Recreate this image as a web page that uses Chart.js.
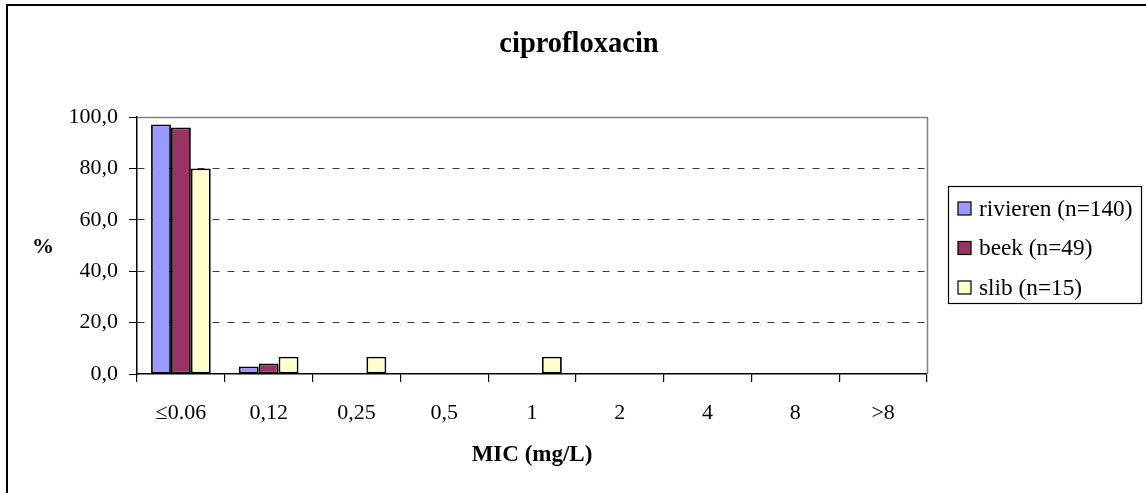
<!DOCTYPE html>
<html>
<head>
<meta charset="utf-8">
<script src="https://cdn.jsdelivr.net/npm/chart.js@4"></script>
<style>
  html, body { margin: 0; padding: 0; background: #fff; }
  #wrap { width: 1146px; height: 493px; position: relative; }
</style>
</head>
<body>
<div id="wrap"><canvas id="c" width="1146" height="493"></canvas></div>
<script>
// MIC classes (mg/L)
const categories = ['\u22640.06', '0,12', '0,25', '0,5', '1', '2', '4', '8', '>8'];
// percentage of isolates per MIC class
const rivieren = [97.1, 2.9, 0, 0, 0, 0, 0, 0, 0];
const beek     = [95.9, 4.1, 0, 0, 0, 0, 0, 0, 0];
const slib     = [80.0, 6.7, 6.7, 0, 6.7, 0, 0, 0, 0];
const seriesNames = ['rivieren (n=140)', 'beek (n=49)', 'slib (n=15)'];
const seriesColors = ['#9999FF', '#993366', '#FFFFCC'];
const yTicks = [0, 20, 40, 60, 80, 100];

const SERIF = '"Liberation Serif", "Times New Roman", serif';

const decorations = {
  id: 'decorations',
  beforeDatasetsDraw(chart) {
    const { ctx, chartArea: a } = chart;
    ctx.save();
    ctx.strokeStyle = '#808080';
    ctx.lineWidth = 1.5;
    ctx.beginPath();
    ctx.moveTo(a.left, a.top + 0.5);
    ctx.lineTo(a.right + 0.5, a.top + 0.5);
    ctx.lineTo(a.right + 0.5, a.bottom);
    ctx.stroke();
    ctx.restore();
  },
  afterDraw(chart) {
    const { ctx, chartArea: a } = chart;
    ctx.save();
    // outer frame
    ctx.fillStyle = '#000';
    ctx.fillRect(6, 4, 1140, 2);
    ctx.fillRect(6, 4, 2, 489);

    // chart title
    ctx.fillStyle = '#000';
    ctx.textAlign = 'center';
    ctx.textBaseline = 'middle';
    ctx.font = 'bold 28.5px ' + SERIF;
    ctx.fillText('ciprofloxacin', 579, 45);

    // axis titles
    ctx.font = 'bold 22px ' + SERIF;
    ctx.fillText('%', 43, 247);
    ctx.font = 'bold 23px ' + SERIF;
    ctx.fillText('MIC (mg/L)', (a.left + a.right) / 2, 455);

    // legend
    const lx = 948, ly = 186, lw = 193, lh = 117;
    ctx.strokeStyle = '#000';
    ctx.lineWidth = 1.2;
    ctx.strokeRect(lx + 0.5, ly + 0.5, lw, lh);
    ctx.font = '23.3px ' + SERIF;
    ctx.textAlign = 'left';
    ctx.textBaseline = 'middle';
    chart.data.datasets.forEach((ds, i) => {
      const cy = 208.5 + i * 39.5;
      ctx.fillStyle = ds.backgroundColor;
      ctx.fillRect(958, cy - 6.5, 13, 13);
      ctx.lineWidth = 1.2;
      ctx.strokeStyle = '#000';
      ctx.strokeRect(958, cy - 6.5, 13, 13);
      ctx.fillStyle = '#000';
      ctx.fillText(ds.label, 979, cy + 1);
    });
    ctx.restore();
  }
};

new Chart(document.getElementById('c'), {
  type: 'bar',
  data: {
    labels: categories,
    datasets: [rivieren, beek, slib].map((d, i) => ({
      label: seriesNames[i],
      data: d,
      backgroundColor: seriesColors[i],
      borderColor: '#000',
      borderWidth: 1.8,
      borderSkipped: false,
      categoryPercentage: 0.68,
      barPercentage: 1.0
    }))
  },
  options: {
    responsive: false,
    animation: false,
    devicePixelRatio: 1,
    layout: { padding: { left: 0, right: 219, top: 117, bottom: 0 } },
    plugins: {
      legend: { display: false },
      tooltip: { enabled: false },
      title: { display: false }
    },
    scales: {
      x: {
        offset: true,
        grid: {
          offset: true,
          drawOnChartArea: false,
          drawTicks: true,
          tickLength: 8,
          color: '#000',
          tickColor: '#000',
          lineWidth: 1.2
        },
        border: { display: true, color: '#000', width: 1.5 },
        ticks: {
          color: '#000',
          font: { family: SERIF, size: 22 },
          padding: 18,
          maxRotation: 0
        },
        afterFit(scale) { scale.height = 119; }
      },
      y: {
        min: 0,
        max: 100,
        afterBuildTicks(scale) { scale.ticks = yTicks.map(v => ({ value: v })); },
        grid: {
          drawTicks: true,
          tickLength: 8,
          color: ctx => (ctx.tick && (ctx.tick.value === 0 || ctx.tick.value === 100)) ? 'rgba(0,0,0,0)' : '#3a3a3a',
          tickColor: '#000',
          tickBorderDash: [],
          lineWidth: 1
        },
        border: { display: true, color: '#000', width: 1.5, dash: [7, 8] },
        ticks: {
          color: '#000',
          font: { family: SERIF, size: 22 },
          padding: 11,
          callback: v => v.toFixed(1).replace('.', ',')
        },
        afterFit(scale) { scale.width = 137; }
      }
    }
  },
  plugins: [decorations]
});
</script>
</body>
</html>
